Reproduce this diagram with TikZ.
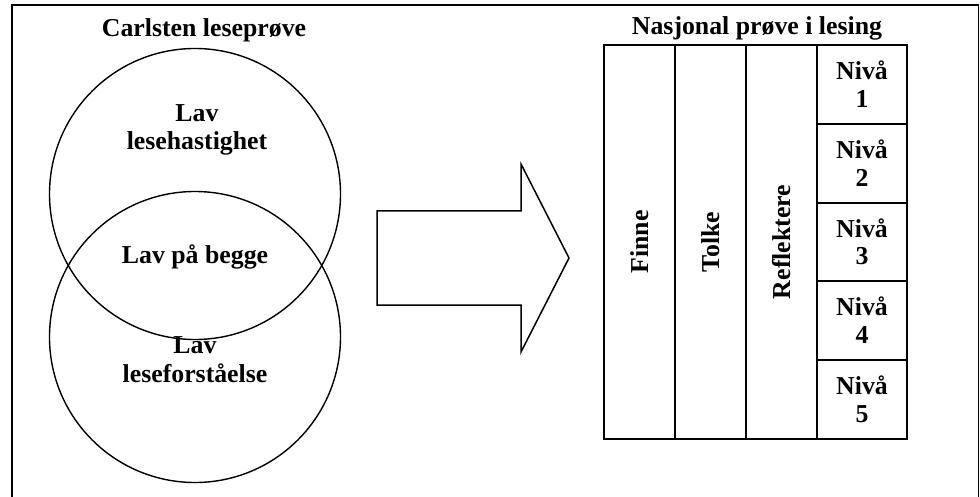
\documentclass[tikz,border=0pt]{standalone}
\usepackage{fontspec}
\setmainfont{Liberation Serif}
\begin{document}
\begin{tikzpicture}[x=1pt,y=-1pt,
  lbl/.style={font=\bfseries\fontsize{25.8}{29}\selectfont, inner sep=0pt, anchor=base},
  rlbl/.style={font=\bfseries\fontsize{25.8}{29}\selectfont, inner sep=0pt, rotate=90},
  ring/.style={circle, draw, line width=1.4pt, minimum size=291pt, inner sep=0pt},
  cell/.style={draw, line width=2pt, inner sep=0pt, anchor=north west},
  frame/.style={draw, line width=1.5pt}
]
\useasboundingbox (0,0) rectangle (980,497);
\draw[frame] (12,5) rectangle (978.5,506);

% Venn diagram
\node[ring] (c1) at (195,194) {};
\node[ring] (c2) at (195,337) {};
\node[lbl] (t1) at (204,37) {Carlsten leseprøve};
\node[lbl] (a1) at (197,122) {Lav};
\node[lbl] (a2) at (197,150) {lesehastighet};
\node[lbl] (b1) at (195,263) {Lav på begge};
\node[lbl] (d1) at (195,353) {Lav};
\node[lbl] (d2) at (195,382) {leseforståelse};

% big arrow
\draw[frame] (377,211) -- (521,211) -- (521,164) -- (569,258) -- (521,352) -- (521,305) -- (377,305) -- cycle;

% table
\node[lbl] (t2) at (757,35) {Nasjonal prøve i lesing};
\node[cell, minimum width=71, minimum height=394] (finne) at (603,44) {};
\node[cell, minimum width=71, minimum height=394] (tolke) at (674,44) {};
\node[cell, minimum width=71, minimum height=394] (refl) at (745,44) {};
\node[rlbl] at (finne.center) {Finne};
\node[rlbl] at (tolke.center) {Tolke};
\node[rlbl] at (refl.center) {Reflektere};
\foreach \i in {1,...,5}{
  \node[cell, minimum width=90, minimum height=78.8] (n\i) at (816,{44+(\i-1)*78.8}) {};
  \node[lbl] at ([yshift=5pt]n\i.center) {Nivå};
  \node[lbl] at ([yshift=-23pt]n\i.center) {\i};
}
\end{tikzpicture}
\end{document}
